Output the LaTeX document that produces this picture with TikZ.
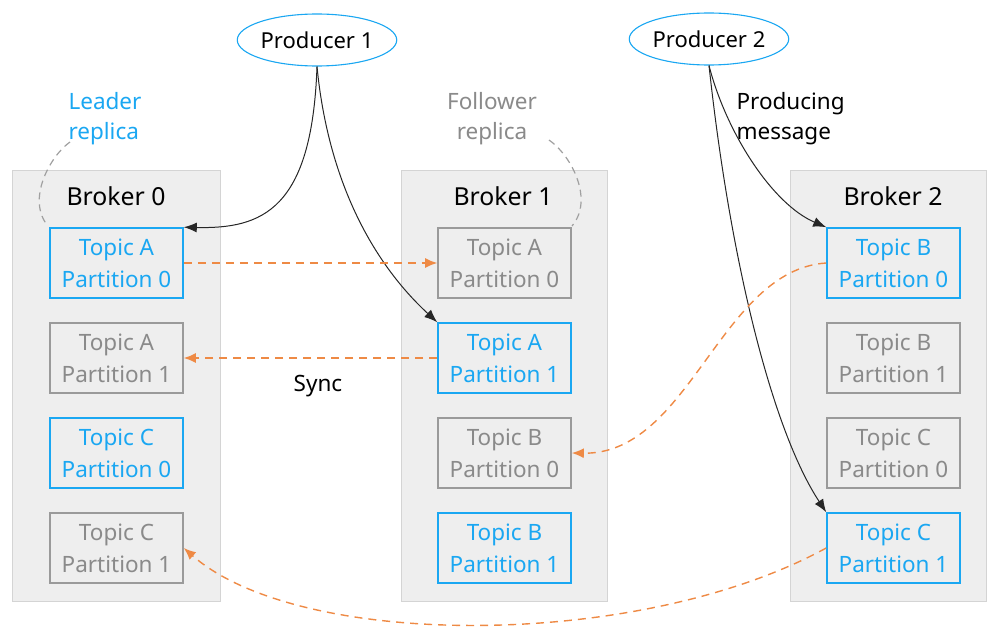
\documentclass[tikz,border=0pt]{standalone}
\usepackage{fontspec}
\setmainfont{Noto Sans}
\usetikzlibrary{arrows.meta,shapes.geometric}
\definecolor{lead}{HTML}{1AA7F2}
\definecolor{gbox}{HTML}{9A9A9A}
\definecolor{gtext}{HTML}{8A8A8A}
\definecolor{brokerfill}{HTML}{EEEEEE}
\definecolor{brokerline}{HTML}{D4D4D4}
\definecolor{syncline}{HTML}{EE8A45}
\definecolor{arcline}{HTML}{A0A0A0}
\begin{document}
\begin{tikzpicture}[x=1pt,y=-1pt,
  broker/.style={draw=brokerline, fill=brokerfill, line width=0.8pt, inner sep=0pt, anchor=north west},
  brokertitle/.style={font=\fontsize{24.8}{30}\selectfont, text=black},
  part/.style={draw, line width=1.6pt, minimum width=133pt, minimum height=70pt, inner sep=0pt, align=center, font=\fontsize{22.5}{32}\selectfont},
  leader/.style={part, draw=lead, text=lead},
  follower/.style={part, draw=gbox, text=gtext},
  prod/.style={ellipse, draw=lead, line width=1.1pt, fill=white, minimum width=157pt, minimum height=52pt, inner sep=0pt, font=\fontsize{22}{26}\selectfont},
  push/.style={-{Latex[length=13pt,width=10pt]}, line width=1pt, draw=black!85},
  sync/.style={-{Latex[length=12pt,width=10pt]}, line width=1.4pt, draw=syncline, dash pattern=on 8pt off 6pt},
  note/.style={font=\fontsize{22.5}{30}\selectfont},
  arc/.style={draw=arcline, line width=1.2pt, dash pattern=on 7pt off 5pt}
]
\useasboundingbox (0,0) rectangle (987,626);

% brokers
\node[broker, minimum width=208pt, minimum height=431pt] (b0) at (12,170) {};
\node[broker, minimum width=206pt, minimum height=431pt] (b1) at (401,170) {};
\node[broker, minimum width=196pt, minimum height=431pt] (b2) at (790,170) {};
\node[brokertitle] (b0t) at (116,196) {Broker 0};
\node[brokertitle] (b1t) at (503,196) {Broker 1};
\node[brokertitle] (b2t) at (893,196) {Broker 2};

% partitions of broker 0
\node[leader]   (b0p0) at (116.5,263) {Topic A\\Partition 0};
\node[follower] (b0p1) at (116.5,358) {Topic A\\Partition 1};
\node[leader]   (b0p2) at (116.5,453) {Topic C\\Partition 0};
\node[follower] (b0p3) at (116.5,548) {Topic C\\Partition 1};
% partitions of broker 1
\node[follower] (b1p0) at (504.5,263) {Topic A\\Partition 0};
\node[leader]   (b1p1) at (504.5,358) {Topic A\\Partition 1};
\node[follower] (b1p2) at (504.5,453) {Topic B\\Partition 0};
\node[leader]   (b1p3) at (504.5,548) {Topic B\\Partition 1};
% partitions of broker 2
\node[leader]   (b2p0) at (893.5,263) {Topic B\\Partition 0};
\node[follower] (b2p1) at (893.5,358) {Topic B\\Partition 1};
\node[follower] (b2p2) at (893.5,453) {Topic C\\Partition 0};
\node[leader]   (b2p3) at (893.5,548) {Topic C\\Partition 1};

% producers
\node[prod] (pr1) at (317,40) {Producer 1};
\node[prod] (pr2) at (709,39) {Producer 2};

% replica notes
\node[note, text=lead, align=left, anchor=west] (ldr) at (65,119) {Leader\\replica};
\node[note, text=gtext, align=center] (flw) at (492,119) {Follower\\replica};
\node[note, align=left, anchor=west] (pm) at (733,119) {Producing\\message};
\node[note] (syn) at (318,386) {Sync};

% dashed arcs marking the replicas
\coordinate (la) at (70,142);
\coordinate (lb) at (48,226);
\coordinate (fa) at (549,140);
\coordinate (fb) at (572,226);
\draw[arc] (la) .. controls (50,156) and (26,200) .. (lb);
\draw[arc] (fa) .. controls (572,156) and (594,200) .. (fb);

% producing messages
\draw[push] (pr1.south) .. controls (312,210) and (262,229) .. (b0p0.north east);
\draw[push] (pr1.south) .. controls (328,180) and (372,262) .. (b1p1.north west);
\draw[push] (pr2.south) .. controls (726,132) and (772,204) .. (b2p0.north west);
\draw[push] (pr2.south) .. controls (730,260) and (772,430) .. (b2p3.north west);

% synchronisation
\draw[sync] (b0p0.east) -- (b1p0.west);
\draw[sync] (b1p1.west) -- (b0p1.east);
\draw[sync] (b2p0.west) .. controls (720,270) and (690,455) .. (b1p2.east);
\draw[sync] (b2p3.west) .. controls (640,650) and (300,650) .. (b0p3.east);
\end{tikzpicture}
\end{document}
